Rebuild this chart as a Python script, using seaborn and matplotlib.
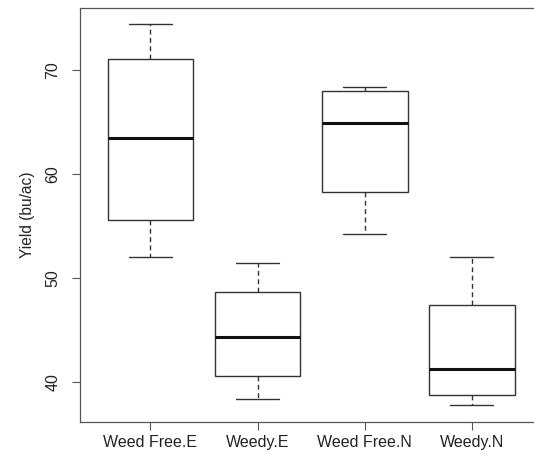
import numpy as np
import pandas as pd
import seaborn as sns
from matplotlib import pyplot as plt

# five-number summaries (min, Q1, median, Q3, max)
groups = ["Weed Free.E", "Weedy.E", "Weed Free.N", "Weedy.N"]
weedfree_e = [52.0, 55.6, 63.4, 71.0, 74.4]
weedy_e = [38.4, 40.6, 44.3, 48.7, 51.4]
weedfree_n = [54.2, 58.3, 64.9, 68.0, 68.3]
weedy_n = [37.8, 38.8, 41.3, 47.4, 52.0]
yticks = [40, 50, 60, 70]

data = pd.DataFrame({
    "group": np.repeat(groups, 5),
    "yield": weedfree_e + weedy_e + weedfree_n + weedy_n,
})

sns.set_style("white")
plt.rcParams["font.family"] = ["Liberation Sans", "DejaVu Sans"]

fig = plt.figure(figsize=(5.34, 4.54), dpi=100)
ax = fig.add_axes([0.1493, 0.0711, 0.8667, 0.9106])

line = "#333333"
sns.boxplot(data=data, x="group", y="yield", order=groups, ax=ax,
            whis=np.inf, width=0.8, color="white", linecolor=line,
            linewidth=1.0, saturation=1,
            medianprops={"color": "#111111", "linewidth": 2.2},
            whiskerprops={"linestyle": (0, (3.5, 2.5)), "color": line, "linewidth": 1.0},
            capprops={"color": line, "linewidth": 1.0})

ax.set_xlim(-0.66, 3.66)
ax.set_ylim(36.2, 75.9)
ax.set_yticks(yticks)
ax.set_xlabel("")
ax.set_ylabel("Yield (bu/ac)", fontsize=11.2, color="#222222")
ax.yaxis.set_label_coords(-0.096, 0.5)

for s in ax.spines.values():
    s.set_visible(True)
    s.set_color("#555555")
    s.set_linewidth(0.9)

ax.tick_params(axis="both", which="both", direction="out", length=5.8, width=0.8,
               color="#555555", labelsize=11.5, labelcolor="#222222")
ax.tick_params(axis="y", left=True, pad=8)
ax.tick_params(axis="x", bottom=True, pad=4)
for lab in ax.get_yticklabels():
    lab.set_rotation(90)
    lab.set_va("center")

fig.savefig("out.png", dpi=100)
